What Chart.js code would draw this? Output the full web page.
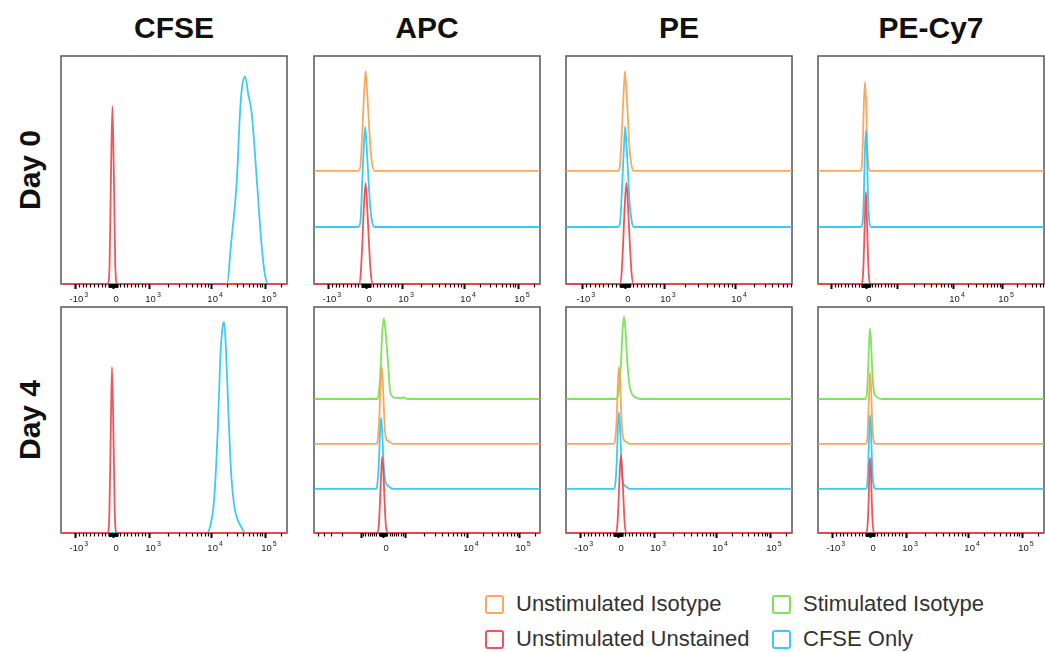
<!DOCTYPE html>
<html>
<head>
<meta charset="utf-8">
<script src="https://cdn.jsdelivr.net/npm/chart.js@4.4.0/dist/chart.umd.min.js"></script>
<style>
  body { margin: 0; width: 1045px; height: 652px; background: #fff; position: relative; overflow: hidden;
         font-family: "Liberation Sans", Arial, sans-serif; }
  .colTitle { position: absolute; top: 11px; width: 226px; text-align: center; font-weight: bold; font-size: 30px; color: #111; }
  .rowTitle { position: absolute; width: 160px; text-align: center; font-weight: bold; font-size: 30px; color: #111;
              transform: rotate(-90deg); transform-origin: center center; }
  .panel { position: absolute; }
  .legItem { position: absolute; font-size: 22px; color: #333; line-height: 24px; white-space: nowrap; }
  .legBox { display: inline-block; width: 15px; height: 15px; border: 2.5px solid; border-radius: 3px;
            vertical-align: -3px; margin-right: 12px; }
</style>
</head>
<body>
<div id="root"></div>
<script>
// histogram x values are in display channels (0-1024), y values in % of max above the series baseline
var markers = ["CFSE", "APC", "PE", "PE-Cy7"];
var days = ["Day 0", "Day 4"];

var seriesNames = {
  iso: "Unstimulated Isotype",
  uns: "Unstimulated Unstained",
  stim: "Stimulated Isotype",
  cfse: "CFSE Only"
};
var seriesColors = {
  iso: "rgba(247, 160, 78, 0.9)",
  uns: "rgba(240, 66, 72, 0.9)",
  stim: "rgba(115, 224, 72, 0.9)",
  cfse: "rgba(40, 196, 244, 0.9)"
};

// baseline offsets of the stacked overlays
var d0Offsets = { uns: 0, cfse: 25, iso: 49.6 };
var d4Offsets = { uns: 0, cfse: 19.5, iso: 39.4, stim: 59.3 };

// axis decades: [value, channel]
var axisStd = [[-1000, 63], [0, 236], [1000, 399], [10000, 680], [100000, 924], [1000000, 1168]];
var axisPeD0 = [[-1000, 72], [0, 267], [1000, 444], [10000, 766], [100000, 1046]];
var axisCy7D0 = [[-1000, 59], [0, 217], [1000, 358], [10000, 612], [100000, 834], [1000000, 1056]];
var axisApcD4 = [[-10000, -68], [-1000, 213], [0, 313], [1000, 412], [10000, 693], [100000, 929], [1000000, 1165]];

var labelsAll = [-1000, 0, 1000, 10000, 100000];
var labelsPeD0 = [-1000, 0, 1000, 10000];
var labelsHigh = [0, 10000, 100000];

// Day 0
var cfseD0Uns = [[0, 0], [212, 0], [220, 8], [226, 45], [233, 78], [240, 45], [246, 8], [254, 0], [1024, 0]];
var cfseD0Cfse = [[0, 0], [752, 0], [770, 17], [797, 46], [811, 75], [820, 86], [834, 91], [849, 83], [864, 75],
                  [887, 46], [909, 17], [924, 4], [938, 0], [1024, 0]];

var apcD0Iso = [[0, 0], [200, 0], [210, 2], [216, 11], [223, 26], [228, 36], [234, 43.8], [240, 36], [246, 26],
                [255, 11], [264, 3], [276, 0], [1024, 0]];
var apcD0Cfse = [[0, 0], [200, 0], [210, 2], [215, 11], [221, 26], [226, 36], [232, 43.9], [238, 36], [244, 26],
                 [253, 11], [262, 3], [274, 0], [1024, 0]];
var apcD0Uns = [[0, 0], [204, 0], [212, 5], [219, 18], [225, 32], [234, 44.2], [242, 32], [249, 18], [257, 5],
                [267, 0], [1024, 0]];

var peD0Iso = [[0, 0], [235, 0], [244, 2], [250, 11], [257, 26], [262, 36], [267, 43.8], [273, 36], [279, 26],
               [287, 11], [296, 3], [306, 0], [1024, 0]];
var peD0Cfse = [[0, 0], [236, 0], [245, 2], [251, 11], [258, 26], [263, 36], [268, 44], [274, 36], [280, 26],
                [288, 11], [297, 3], [307, 0], [1024, 0]];
var peD0Uns = [[0, 0], [244, 0], [252, 5], [259, 18], [265, 32], [274, 44.3], [282, 32], [289, 18], [297, 5],
               [306, 0], [1024, 0]];

var cy7D0Iso = [[0, 0], [192, 0], [199, 3], [204, 15], [208, 30], [213, 39], [218, 30], [222, 15], [228, 3],
                [236, 0], [1024, 0]];
var cy7D0Cfse = [[0, 0], [196, 0], [203, 3], [208, 15], [212, 32], [217, 42.5], [222, 32], [226, 15], [232, 3],
                 [240, 0], [1024, 0]];
var cy7D0Uns = [[0, 0], [197, 0], [204, 4], [209, 17], [213, 31], [217, 40.4], [221, 31], [225, 17], [230, 4],
                [237, 0], [1024, 0]];

// Day 4
var cfseD4Uns = [[0, 0], [211, 0], [219, 8], [225, 42], [231, 73.5], [238, 42], [244, 8], [252, 0], [1024, 0]];
var cfseD4Cfse = [[0, 0], [660, 0], [676, 3], [694, 15], [710, 45], [722, 78], [732, 91], [739, 93.4], [748, 80],
                  [758, 55], [770, 28], [785, 12], [800, 6], [815, 3], [835, 0], [1024, 0]];

var apcD4Stim = [[0, 0], [286, 0], [293, 2], [302, 14], [309, 29], [317, 35.7], [325, 29], [331, 21.7], [337, 14],
                 [344, 4], [352, 1.5], [362, 0.6], [395, 0.4], [405, 0.8], [414, 0.3], [430, 0], [1024, 0]];
var apcD4Iso = [[0, 0], [282, 0], [289, 2], [296, 12], [302, 27], [307, 34.2], [312, 27], [318, 12], [325, 3],
                [340, 1], [358, 0], [1024, 0]];
var apcD4Cfse = [[0, 0], [280, 0], [287, 2], [294, 12], [299, 25], [304, 31.7], [309, 25], [315, 12], [322, 4],
                 [335, 1.5], [360, 0], [1024, 0]];
var apcD4Uns = [[0, 0], [287, 0], [294, 4], [300, 16], [305, 28], [309, 33.8], [314, 28], [319, 16], [325, 4],
                [333, 0], [1024, 0]];

var peD4Stim = [[0, 0], [228, 0], [238, 3], [248, 14], [256, 30], [263, 36.5], [270, 30], [278, 16], [288, 6],
                [300, 2], [320, 0.5], [340, 0], [1024, 0]];
var peD4Iso = [[0, 0], [216, 0], [223, 2], [230, 12], [235, 27], [240, 34], [245, 27], [251, 12], [258, 3],
               [272, 1], [290, 0], [1024, 0]];
var peD4Cfse = [[0, 0], [216, 0], [223, 2], [230, 12], [235, 27], [240, 34], [245, 27], [251, 12], [258, 3],
                [272, 1], [290, 0], [1024, 0]];
var peD4Uns = [[0, 0], [226, 0], [233, 4], [239, 16], [244, 28], [249, 34.5], [254, 28], [260, 16], [266, 4],
               [274, 0], [1024, 0]];

var cy7D4Stim = [[0, 0], [215, 0], [222, 3], [228, 15], [232, 26], [236, 31.2], [240, 26], [245, 14], [252, 4],
                 [265, 1], [290, 0], [1024, 0]];
var cy7D4Iso = [[0, 0], [217, 0], [224, 3], [229, 15], [233, 26], [236, 31.7], [240, 26], [244, 14], [250, 3],
                [262, 0], [1024, 0]];
var cy7D4Cfse = [[0, 0], [217, 0], [224, 3], [229, 15], [233, 27], [236, 32.6], [240, 27], [244, 14], [250, 3],
                 [262, 0], [1024, 0]];
var cy7D4Uns = [[0, 0], [219, 0], [225, 4], [230, 16], [233, 28], [236, 33.2], [240, 28], [243, 16], [248, 4],
                [254, 0], [1024, 0]];

var panels = [
  { left: 61, top: 56, bottom: 284, axis: axisStd, labels: labelsAll, offsets: null,
    series: [["uns", cfseD0Uns], ["cfse", cfseD0Cfse]] },
  { left: 314, top: 56, bottom: 284, axis: axisStd, labels: labelsAll, offsets: d0Offsets,
    series: [["uns", apcD0Uns], ["cfse", apcD0Cfse], ["iso", apcD0Iso]] },
  { left: 566, top: 56, bottom: 284, axis: axisPeD0, labels: labelsPeD0, offsets: d0Offsets,
    series: [["uns", peD0Uns], ["cfse", peD0Cfse], ["iso", peD0Iso]] },
  { left: 818, top: 56, bottom: 284, axis: axisCy7D0, labels: labelsHigh, offsets: d0Offsets,
    series: [["uns", cy7D0Uns], ["cfse", cy7D0Cfse], ["iso", cy7D0Iso]] },
  { left: 61, top: 307, bottom: 533, axis: axisStd, labels: labelsAll, offsets: null,
    series: [["uns", cfseD4Uns], ["cfse", cfseD4Cfse]] },
  { left: 314, top: 307, bottom: 533, axis: axisApcD4, labels: labelsHigh, offsets: d4Offsets,
    series: [["uns", apcD4Uns], ["cfse", apcD4Cfse], ["iso", apcD4Iso], ["stim", apcD4Stim]] },
  { left: 566, top: 307, bottom: 533, axis: axisStd, labels: labelsAll, offsets: d4Offsets,
    series: [["uns", peD4Uns], ["cfse", peD4Cfse], ["iso", peD4Iso], ["stim", peD4Stim]] },
  { left: 818, top: 307, bottom: 533, axis: axisStd, labels: labelsAll, offsets: d4Offsets,
    series: [["uns", cy7D4Uns], ["cfse", cy7D4Cfse], ["iso", cy7D4Iso], ["stim", cy7D4Stim]] }
];

var PANEL_W = 226;
var PAD = { left: 12, right: 12, top: 6, bottom: 22 };

// minor ticks: linear around zero, log steps inside each decade
function buildTicks(majors) {
  var ticks = [];
  for (var i = 0; i < majors.length; i++) {
    ticks.push({ ch: majors[i][1], major: true });
    if (i === majors.length - 1) break;
    var a = majors[i], b = majors[i + 1];
    var k;
    if (a[0] === 0 || b[0] === 0) {
      var zero = a[0] === 0 ? a[1] : b[1];
      var edge = a[0] === 0 ? b[1] : a[1];
      for (k = 1; k < 10; k++) ticks.push({ ch: zero + (edge - zero) * k / 10 });
      // dense block just around zero
      for (k = 1; k <= 12; k++) ticks.push({ ch: zero + (edge - zero) * k / 100, dense: true });
    } else {
      var lo = Math.abs(a[0]) < Math.abs(b[0]) ? a : b;
      var hi = lo === a ? b : a;
      for (k = 2; k < 10; k++) ticks.push({ ch: lo[1] + (hi[1] - lo[1]) * Math.log10(k) });
    }
  }
  return ticks;
}

var LABEL_FONT = "9.5px 'Liberation Sans', Arial, sans-serif";
var EXP_FONT = "7px 'Liberation Sans', Arial, sans-serif";

function drawPowerLabel(ctx, value, x, y) {
  ctx.fillStyle = "#1a1a1a";
  ctx.textBaseline = "alphabetic";
  ctx.textAlign = "left";
  ctx.font = LABEL_FONT;
  if (value === 0) {
    var w0 = ctx.measureText("0").width;
    ctx.fillText("0", x + 3 - w0 / 2, y);
    return;
  }
  var base = value < 0 ? "-10" : "10";
  var exp = String(Math.round(Math.log10(Math.abs(value))));
  var wb = ctx.measureText(base).width;
  ctx.font = EXP_FONT;
  var we = ctx.measureText(exp).width;
  var start = x + 4 - (wb + we + 1) / 2;
  ctx.font = LABEL_FONT;
  ctx.fillText(base, start, y);
  ctx.font = EXP_FONT;
  ctx.fillText(exp, start + wb + 1, y - 5);
}

function makeAxisPlugin(p) {
  var ticks = buildTicks(p.axis);
  return {
    id: "flowAxis",
    beforeDatasetsDraw: function (chart) {
      var a = chart.chartArea, ctx = chart.ctx;
      ctx.save();
      ctx.strokeStyle = "#555";
      ctx.lineWidth = 1.5;
      ctx.strokeRect(a.left, a.top, a.right - a.left, a.bottom - a.top);
      ctx.restore();
    },
    afterDraw: function (chart) {
      var a = chart.chartArea, ctx = chart.ctx, xs = chart.scales.x;
      ctx.save();
      ctx.strokeStyle = "#000";
      ticks.forEach(function (t) {
        if (t.ch < 0 || t.ch > 1024) return;
        var x = Math.round(xs.getPixelForValue(t.ch)) + 0.5;
        ctx.lineWidth = t.major ? 2 : (t.dense ? 1.5 : 1.2);
        ctx.beginPath();
        ctx.moveTo(x, a.bottom);
        ctx.lineTo(x, a.bottom + (t.major ? 5 : 3.5));
        ctx.stroke();
      });
      p.labels.forEach(function (v) {
        var m = p.axis.filter(function (d) { return d[0] === v; })[0];
        drawPowerLabel(ctx, v, xs.getPixelForValue(m[1]), a.bottom + 18);
      });
      ctx.restore();
    }
  };
}

var root = document.getElementById("root");

markers.forEach(function (name, i) {
  var d = document.createElement("div");
  d.className = "colTitle";
  d.style.left = panels[i].left + "px";
  d.textContent = name;
  root.appendChild(d);
});

days.forEach(function (name, i) {
  var p = panels[i * 4];
  var d = document.createElement("div");
  d.className = "rowTitle";
  d.style.left = (30 - 80) + "px";
  d.style.top = ((p.top + p.bottom) / 2 - 17) + "px";
  d.textContent = name;
  root.appendChild(d);
});

panels.forEach(function (p) {
  var h = p.bottom - p.top;
  var cv = document.createElement("canvas");
  cv.className = "panel";
  cv.width = PANEL_W + PAD.left + PAD.right;
  cv.height = h + PAD.top + PAD.bottom;
  cv.style.left = (p.left - PAD.left) + "px";
  cv.style.top = (p.top - PAD.top) + "px";
  root.appendChild(cv);

  var datasets = p.series.map(function (s) {
    var key = s[0];
    var off = p.offsets ? p.offsets[key] : 0;
    return {
      label: seriesNames[key],
      data: s[1].map(function (pt) { return { x: pt[0], y: pt[1] + off }; }),
      borderColor: seriesColors[key],
      borderWidth: 1.8,
      pointRadius: 0,
      fill: false,
      cubicInterpolationMode: "monotone",
      clip: 4
    };
  });

  new Chart(cv, {
    type: "line",
    data: { datasets: datasets },
    options: {
      responsive: false,
      animation: false,
      layout: { padding: PAD },
      plugins: { legend: { display: false }, tooltip: { enabled: false } },
      scales: {
        x: { type: "linear", min: 0, max: 1024, display: false },
        y: { min: 0, max: 100, display: false }
      }
    },
    plugins: [makeAxisPlugin(p)]
  });
});

// legend
var legendItems = [
  ["iso", 485, 592], ["uns", 485, 627], ["stim", 772, 592], ["cfse", 772, 627]
];
legendItems.forEach(function (it) {
  var d = document.createElement("div");
  d.className = "legItem";
  d.style.left = it[1] + "px";
  d.style.top = it[2] + "px";
  var box = document.createElement("span");
  box.className = "legBox";
  box.style.borderColor = seriesColors[it[0]];
  d.appendChild(box);
  d.appendChild(document.createTextNode(seriesNames[it[0]]));
  root.appendChild(d);
});
</script>
</body>
</html>
